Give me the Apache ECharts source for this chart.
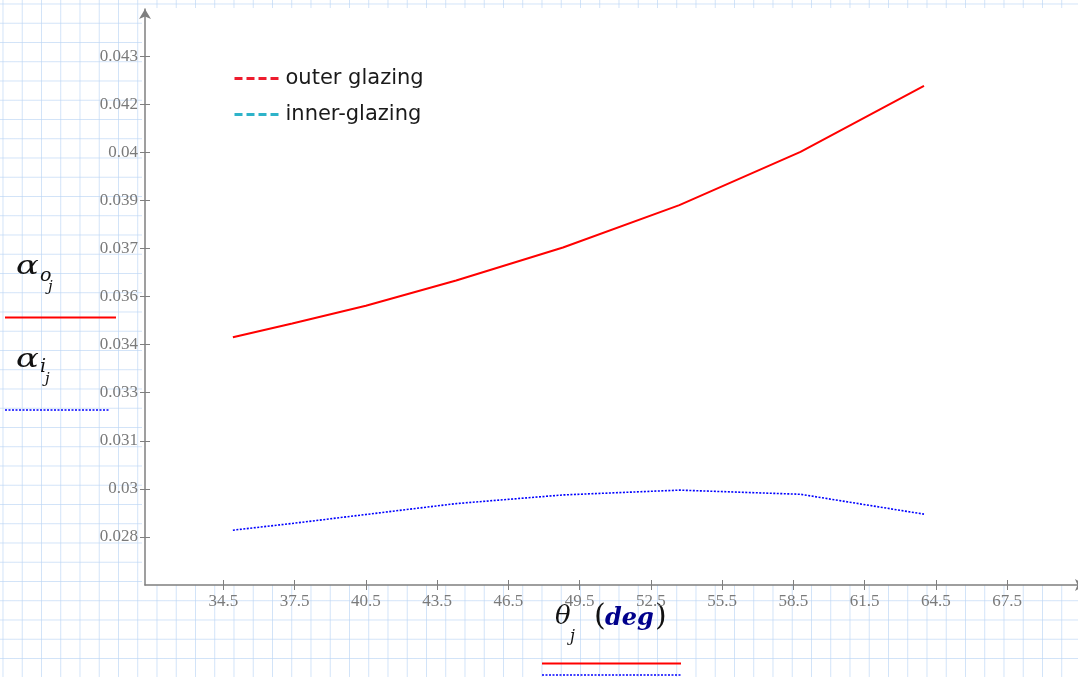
<!DOCTYPE html>
<html>
<head>
<meta charset="utf-8">
<script src="https://cdn.jsdelivr.net/npm/echarts@6/dist/echarts.min.js"></script>
<style>
  html, body { margin: 0; padding: 0; overflow: hidden; }
  #chart {
    width: 1078px; height: 677px;
    background-color: #ffffff;
    background-image:
      linear-gradient(to right, rgba(190, 215, 245, 0.7) 1px, transparent 1px),
      linear-gradient(to bottom, rgba(190, 215, 245, 0.7) 1px, transparent 1px);
    background-size: 19.25px 19.25px;
    background-position: 2.5px 3.5px;
  }
</style>
</head>
<body>
<div id="chart"></div>
<script>
// incidence angle θ_j (deg)
const theta = [34.9, 37.4, 40.5, 44.3, 48.8, 53.7, 58.8, 64.0];
// absorptance of the outer and inner glazing
const alphaOuter = [0.03423, 0.03466, 0.03521, 0.03600, 0.03703, 0.03835, 0.04001, 0.04207];
const alphaInner = [0.02821, 0.02842, 0.02870, 0.02904, 0.02931, 0.02946, 0.02933, 0.02871];

const seriesNames = ['outer glazing', 'inner-glazing'];

// axis ticks
const xTickValues = [34.5, 37.5, 40.5, 43.5, 46.5, 49.5, 52.5, 55.5, 58.5, 61.5, 64.5, 67.5];
const xTickLabels = ['34.5', '37.5', '40.5', '43.5', '46.5', '49.5', '52.5', '55.5', '58.5', '61.5', '64.5', '67.5'];
const yTickValues = [0.028, 0.0295, 0.031, 0.0325, 0.034, 0.0355, 0.037, 0.0385, 0.04, 0.0415, 0.043];
const yTickLabels = ['0.028', '0.03', '0.031', '0.033', '0.034', '0.036', '0.037', '0.039', '0.04', '0.042', '0.043'];

const X_MIN = 31.2, X_MAX = 70.78;
const Y_MIN = 0.0265, Y_MAX = 0.04447;

function labelFor(values, labels) {
  return function (v) {
    for (let i = 0; i < values.length; i++) {
      if (Math.abs(values[i] - v) < 1e-7) return labels[i];
    }
    return '';
  };
}

const axisGray = '#7f7f7f';
const tickFont = { color: '#7a7a7a', fontFamily: '"Liberation Serif", serif', fontSize: 17 };
const mathFont = '"DejaVu Serif", "Liberation Serif", serif';

// math-style text placed by its vertical middle
function mathText(x, y, text, font, fill, scaleX) {
  return {
    type: 'text', x: x, y: y, scaleX: scaleX || 1, silent: true,
    style: { text: text, font: font, fill: fill || '#111', align: 'left', verticalAlign: 'middle' }
  };
}

const chart = echarts.init(document.getElementById('chart'), null, { renderer: 'canvas' });

chart.setOption({
  backgroundColor: 'transparent',
  animation: false,
  // the plot runs slightly past the right edge so the x-axis arrow is clipped
  grid: { left: 145, width: 940, top: 9, height: 576, outerBoundsMode: 'none', containLabel: false },
  legend: {
    orient: 'vertical',
    left: 228,
    top: 63,
    itemGap: 15,
    itemWidth: 46,
    itemHeight: 14,
    textStyle: { fontFamily: '"DejaVu Sans", sans-serif', fontSize: 21, color: '#1a1a1a' },
    data: [
      { name: seriesNames[0], itemStyle: { opacity: 0 }, lineStyle: { color: '#ee1c2e', width: 3, type: [8, 4] } },
      { name: seriesNames[1], itemStyle: { opacity: 0 }, lineStyle: { color: '#2eb3c9', width: 3, type: [8, 4] } }
    ]
  },
  xAxis: [{
    type: 'value',
    min: X_MIN, max: X_MAX,
    splitLine: { show: false },
    axisLine: { show: true, lineStyle: { color: axisGray, width: 1.5 }, symbol: ['none', 'arrow'], symbolSize: [9, 10] },
    axisTick: { show: true, length: 5, lineStyle: { color: axisGray }, customValues: xTickValues },
    axisLabel: Object.assign({ margin: 8, customValues: xTickValues, formatter: labelFor(xTickValues, xTickLabels) }, tickFont)
  }, {
    type: 'value',
    min: X_MIN, max: X_MAX,
    position: 'bottom',
    splitLine: { show: false },
    axisLine: { show: false },
    axisTick: { show: true, inside: true, length: 5, lineStyle: { color: axisGray }, customValues: xTickValues },
    axisLabel: { show: false }
  }],
  yAxis: [{
    type: 'value',
    min: Y_MIN, max: Y_MAX,
    splitLine: { show: false },
    axisLine: { show: true, lineStyle: { color: axisGray, width: 1.5 }, symbol: ['none', 'arrow'], symbolSize: [9, 10] },
    axisTick: { show: true, length: 5, lineStyle: { color: axisGray }, customValues: yTickValues },
    axisLabel: Object.assign({ margin: 7, customValues: yTickValues, formatter: labelFor(yTickValues, yTickLabels) }, tickFont)
  }, {
    type: 'value',
    min: Y_MIN, max: Y_MAX,
    position: 'left',
    splitLine: { show: false },
    axisLine: { show: false },
    axisTick: { show: true, inside: true, length: 5, lineStyle: { color: axisGray }, customValues: yTickValues },
    axisLabel: { show: false }
  }],
  series: [{
    name: seriesNames[0],
    type: 'line',
    data: theta.map((t, i) => [t, alphaOuter[i]]),
    showSymbol: false,
    symbol: 'none',
    lineStyle: { color: '#ff0000', width: 2 },
    itemStyle: { color: '#ee1c2e' },
    z: 3
  }, {
    name: seriesNames[1],
    type: 'line',
    data: theta.map((t, i) => [t, alphaInner[i]]),
    showSymbol: false,
    symbol: 'none',
    lineStyle: { color: '#0000ff', width: 1.6, type: [2, 1.5] },
    itemStyle: { color: '#2eb3c9' },
    z: 3
  }],
  graphic: [
    // white plotting panel
    { type: 'rect', z: -10, silent: true, shape: { x: 142, y: 8, width: 940, height: 577 }, style: { fill: '#ffffff' } },
    // y-axis titles
    mathText(16, 267, 'α', 'italic 26px ' + mathFont, '#111', 1.3),
    mathText(40, 276, 'o', 'italic 19px ' + mathFont),
    mathText(48, 287, 'j', 'italic 15px ' + mathFont),
    { type: 'line', silent: true, shape: { x1: 5, y1: 317.5, x2: 116, y2: 317.5 }, style: { stroke: '#ff0000', lineWidth: 2 } },
    mathText(16, 360, 'α', 'italic 26px ' + mathFont, '#111', 1.3),
    mathText(40, 367, 'i', 'italic 19px ' + mathFont),
    mathText(45, 379, 'j', 'italic 15px ' + mathFont),
    { type: 'line', silent: true, shape: { x1: 5, y1: 410, x2: 110, y2: 410 }, style: { stroke: '#0000ff', lineWidth: 1.6, lineDash: [2, 1.5] } },
    // x-axis title
    mathText(555, 617, 'θ', 'italic 26px ' + mathFont),
    mathText(570, 637, 'j', 'italic 16px ' + mathFont),
    mathText(594, 617, '(', '30px ' + mathFont),
    mathText(605, 618.5, 'deg', 'italic bold 24px ' + mathFont, '#00008b'),
    mathText(655, 617, ')', '30px ' + mathFont),
    { type: 'line', silent: true, shape: { x1: 542, y1: 663.5, x2: 681, y2: 663.5 }, style: { stroke: '#ff0000', lineWidth: 2 } },
    { type: 'line', silent: true, shape: { x1: 542, y1: 675, x2: 681, y2: 675 }, style: { stroke: '#0000ff', lineWidth: 1.6, lineDash: [2, 1.5] } }
  ]
});
</script>
</body>
</html>
